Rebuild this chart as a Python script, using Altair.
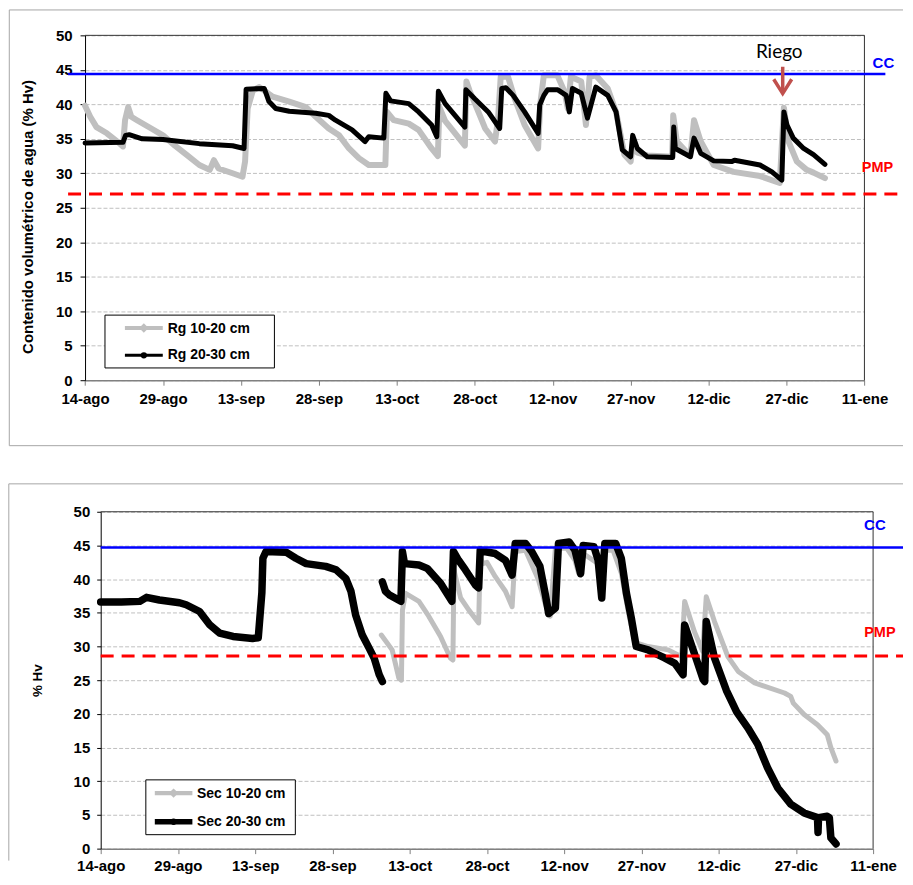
import json
import pandas as pd
import altair as alt

# ---------------- data ----------------
X_TICK_DAYS = [0, 15, 30, 45, 60, 75, 90, 105, 120, 135, 150]
X_TICK_LABELS = ["14-ago", "29-ago", "13-sep", "28-sep", "13-oct", "28-oct",
                 "12-nov", "27-nov", "12-dic", "27-dic", "11-ene"]
Y_TICKS = [0, 5, 10, 15, 20, 25, 30, 35, 40, 45, 50]

SERIES_RG = ["Rg 10-20 cm", "Rg 20-30 cm"]
SERIES_SEC = ["Sec 10-20 cm", "Sec 20-30 cm"]

CC_RG = 44.4
PMP_RG = 27.0
CC_SEC = 44.7
PMP_SEC = 28.6

# days after 14-ago
RG_1020_DAY = [0, 1, 2.2, 4.2, 6.7, 7.3, 7.7, 8.3, 8.9, 10, 12.5, 15, 17.3, 19.5, 22, 24,
               24.8, 25.7, 28.4, 30.3, 30.8, 31.3, 32.3, 33.5, 34.5, 36.1, 39.3, 42.5,
               44.4, 46.9, 48.9, 50.8, 52.7, 54.6, 57.8, 58.1, 59.4, 62.3, 64.2, 66.7,
               67.9, 68.2, 69.3, 71, 73.1, 73.4, 74, 75.7, 77, 78.9, 79.5, 80, 81.4,
               82.7, 84.6, 87.2, 87.6, 88.3, 90.9, 92.3, 92.9, 93.5, 95.5, 96.4, 97.1,
               98.3, 100.6, 102.2, 103.8, 105, 105.4, 106.3, 108.2, 113.0, 113.2, 113.9,
               116.5, 117.2, 118.5, 121, 124.8, 129.9, 133.7, 134.5, 135.4, 137, 138.9,
               140.2, 142.4]
RG_1020_VAL = [39.8, 38.2, 36.7, 35.8, 34.3, 33.9, 37.7, 39.6, 38.2, 37.7, 36.6, 35.5, 34.0,
               32.7, 31.2, 30.5, 31.9, 30.7, 30.0, 29.5, 31.7, 39.4, 42.0, 42.5, 42.0, 41.1,
               40.4, 39.6, 38.2, 36.5, 35.5, 33.6, 32.2, 31.2, 31.2, 38.9, 37.7, 37.2, 36.3,
               33.6, 32.5, 39.6, 37.6, 36.0, 34.0, 43.3, 42.0, 38.9, 36.5, 34.6, 38.0, 44.0,
               44.0, 40.8, 37.0, 33.6, 40.0, 44.2, 44.2, 41.8, 39.4, 44.0, 43.3, 37.0, 44.0,
               44.2, 42.3, 38.9, 32.7, 31.7, 34.1, 33.0, 32.6, 32.4, 38.4, 34.6, 32.5, 37.7,
               34.6, 31.2, 30.2, 29.6, 28.6, 39.5, 34.6, 31.7, 30.5, 30.1, 29.3]

RG_2030_DAY = [0, 7.3, 7.8, 8.5, 11, 15, 22, 28.4, 30.6, 31.0, 34.5, 35.4, 36.7, 39.3, 44.4,
               46.9, 48.2, 51.4, 53.9, 54.6, 57.5, 57.9, 58.8, 62.3, 64.2, 66.7, 67.7, 68.0,
               69.3, 73.1, 73.3, 75.0, 77.6, 79.8, 80.2, 81.0, 82.4, 84.6, 87.2, 87.5, 88.3,
               89.0, 91.0, 92.6, 93.2, 93.8, 95.5, 96.7, 98.3, 100.6, 102.2, 103.4, 105.0,
               105.4, 106.3, 108.2, 113.1, 113.3, 113.6, 116.5, 117.2, 118.5, 121, 124.5,
               125, 129.9, 132.2, 134.1, 134.5, 135.1, 136.3, 138.3, 140.2, 142.4]
RG_2030_VAL = [34.4, 34.5, 35.5, 35.6, 35.0, 34.9, 34.3, 34.0, 33.6, 42.2, 42.3, 40.4, 39.4,
               39.0, 38.7, 38.4, 37.7, 36.3, 34.6, 35.3, 35.1, 41.6, 40.5, 40.1, 38.9, 37.0,
               35.3, 41.9, 40.1, 36.7, 42.1, 40.8, 38.9, 36.5, 42.3, 42.4, 41.3, 38.9, 35.8,
               39.9, 41.3, 42.1, 42.1, 41.3, 38.9, 42.3, 41.6, 38.0, 42.5, 41.3, 38.9, 33.4,
               32.4, 35.5, 33.6, 32.4, 32.3, 36.7, 33.6, 32.4, 35.1, 32.9, 31.8, 31.7, 31.9,
               31.2, 30.2, 29.0, 38.9, 37.0, 35.1, 33.6, 32.7, 31.3]

SEC_1020_DAY = [54.5, 56.6, 57.9, 58.4, 58.6, 59.2, 61.8, 63.7, 66.0, 67.9, 68.4, 68.6, 69.9,
                71.5, 73.4, 73.7, 74.2, 75.0, 76.6, 78.6, 79.9, 80.5, 82.5, 85.0, 86.3, 87.3,
                88.3, 90.5, 92.1, 92.8, 93.7, 96.6, 97.3, 97.9, 99.5, 101.1, 102.4, 103.7,
                106.3, 110.2, 112.8, 113.4, 115.3, 116.9, 117.6, 119.2, 121.8, 123.8, 127.0,
                132.8, 134.0, 134.5, 136.6, 139.2, 141.1, 141.8, 142.8]
SEC_1020_VAL = [31.7, 29.5, 25.3, 25.0, 35.4, 37.9, 36.7, 34.5, 31.5, 28.3, 28.0, 41.4, 37.2,
                35.4, 33.5, 43.3, 42.3, 42.5, 40.4, 38.2, 35.9, 44.1, 44.3, 39.9, 36.4, 34.5,
                44.6, 44.6, 42.8, 40.9, 43.8, 42.3, 39.4, 44.3, 44.3, 40.9, 35.4, 30.6,
                30.0, 29.5, 28.5, 36.7, 32.2, 29.3, 37.4, 33.7, 28.5, 26.3, 24.6,
                23.1, 22.6, 21.6, 19.9, 18.4, 16.9, 15.0, 13.0]

SEC_2030_DAY = [0, 4, 7.6, 8.9, 11.4, 15.3, 16.6, 19.2, 21.2, 23.1, 25.7, 29.5, 30.6, 31.3,
                31.5, 32.1, 36.0, 37.9, 39.9, 43.7, 45.7, 47.6, 48.6, 49.5, 50.8, 52.1, 53.1,
                54.1, 54.7,
                54.7, 55.3, 56.0, 58.3, 58.6, 59.0, 61.8, 63.4, 66.0, 68.2, 68.5, 69.5, 70.8,
                72.8, 73.4, 73.7, 74.5, 76.6, 78.6, 79.9, 80.5, 82.5, 83.7, 85.3, 86.3, 87.0,
                88.3, 88.9, 91.0, 92.1, 93.2, 93.7, 95.8, 96.6, 97.3, 97.9, 100.0, 101.1,
                102.1, 103.1, 104.0, 106.3, 107.6, 109.5, 111.5, 113.1, 113.4, 115.5, 117.0,
                117.3, 117.6, 119.2, 121.5, 123.5, 125.7, 127.6, 129.5, 131.5, 134.0, 136.6,
                139.2, 139.3, 139.4, 141.1, 141.5, 141.8, 142.8]
SEC_2030_VAL = [36.6, 36.6, 36.7, 37.3, 36.9, 36.5, 36.2, 35.2, 33.2, 32.0, 31.5, 31.2, 31.3,
                38.0, 43.1, 44.1, 44.0, 43.1, 42.3, 41.9, 41.4, 40.1, 38.2, 34.7, 31.7, 29.8,
                28.3, 25.8, 24.8,
                39.6, 38.2, 37.7, 36.7, 44.1, 42.3, 42.1, 41.6, 39.4, 36.7, 44.1, 42.8, 41.4,
                39.1, 38.7, 44.3, 44.1, 43.8, 42.8, 40.6, 45.3, 45.3, 44.1, 41.9, 37.9, 34.9,
                35.7, 45.3, 45.5, 44.3, 40.8, 45.0, 44.8, 42.8, 37.2, 45.3, 45.3, 43.1,
                37.9, 34.0, 30.0, 29.5, 29.0, 28.3, 27.5, 25.8, 33.2, 28.5, 25.1,
                24.8, 33.7, 28.3, 23.5, 20.3, 17.9, 15.5, 12.0, 9.0, 6.6, 5.3,
                4.6, 2.4, 4.6, 4.8, 4.6, 1.6, 0.7]
SEC_2030_SEG = [1] * 29 + [2] * (len(SEC_2030_DAY) - 29)

# ---------------- styling ----------------
FONT = "Liberation Sans"
GRAY = "#BFBFBF"
BLACK = "#000000"
BLUE = "#0000FF"
RED = "#FF0000"
FRAME = "#A6A6A6"
BORDER = "#333333"

label_expr = json.dumps(X_TICK_LABELS) + "[round(datum.value / 15)]"


def x_axis(pad):
    return alt.Axis(values=X_TICK_DAYS, labelExpr=label_expr, title=None, grid=False,
                    labelFontSize=15, labelFontWeight="bold", labelColor="black",
                    labelFont=FONT, labelFlush=False, labelOverlap=False,
                    labelPadding=pad, tickSize=5, tickColor="#808080",
                    domainColor="#808080", domainWidth=1.5)


def y_axis(title, tsize, lpad, tpad, tfs, offset=0, title_y=None):
    kw = dict(values=Y_TICKS, title=title, grid=True, gridColor="#C0C0C0",
              gridDash=[4, 2], gridWidth=1, labelFontSize=15, labelFontWeight="bold",
              labelColor="black", labelFont=FONT, labelPadding=lpad, tickSize=tsize,
              labelOverlap=False, tickColor="black", domainColor="black", titleFont=FONT,
              titleFontSize=tfs, titleFontWeight="bold", titleColor="black",
              titlePadding=tpad, offset=offset)
    if title_y is not None:
        kw["titleY"] = title_y
    return alt.Axis(**kw)


def hrule(x1, x2, y, color, width):
    return alt.Chart().mark_rule(color=color, strokeWidth=width).encode(
        x=alt.value(x1), x2=alt.value(x2), y=alt.value(y))


def vline(x, y1, y2, color, width):
    return alt.Chart().mark_rule(color=color, strokeWidth=width).encode(
        x=alt.value(x), y=alt.value(y1), y2=alt.value(y2))


def label(x, y, text, size, color="black", weight="bold", align="left", font=FONT,
          baseline="middle"):
    return alt.Chart().mark_text(text=text, fontSize=size, fontWeight=weight, color=color,
                                 align=align, baseline=baseline, font=font).encode(
        x=alt.value(x), y=alt.value(y))


def panel(w, h, xrange, df_gray, df_black, gray_w, black_w, yaxis, xpad, cc, pmp, cc_x,
          pmp_x, extra):
    xs = alt.Scale(domain=[0, 150], range=xrange, nice=False, zero=False)
    ys = alt.Scale(domain=[0, 50], nice=False)
    xa = x_axis(xpad)
    yenc = alt.Y("val:Q", scale=ys, axis=yaxis)
    gray = alt.Chart(df_gray).mark_line(color=GRAY, strokeWidth=gray_w, strokeJoin="round",
                                        strokeCap="round").encode(
        x=alt.X("day:Q", scale=xs, axis=xa), y=yenc)
    black = alt.Chart(df_black).mark_line(color=BLACK, strokeWidth=black_w,
                                          strokeJoin="round", strokeCap="round").encode(
        x=alt.X("day:Q", scale=xs, axis=xa), y=yenc, detail="seg:N")
    pmp_rule = alt.Chart(pd.DataFrame({"val": [pmp]})).mark_rule(
        color=RED, strokeWidth=3, strokeDash=[13, 8]).encode(
        x=alt.value(pmp_x[0]), x2=alt.value(pmp_x[1]), y=yenc)
    cc_rule = alt.Chart(pd.DataFrame({"val": [cc]})).mark_rule(
        color=BLUE, strokeWidth=2.5).encode(
        x=alt.value(cc_x[0]), x2=alt.value(cc_x[1]), y=yenc)
    border = [hrule(xrange[0], xrange[1], 0, BORDER, 1),
              vline(xrange[1], 0, h, BORDER, 1)]
    return alt.layer(gray, black, *border, pmp_rule, cc_rule, *extra).properties(
        width=w, height=h)


def legend(box, names, line_x, ys, text_x, gw, bw):
    cx = (line_x[0] + line_x[1]) / 2
    return [
        alt.Chart().mark_rect(fill="white", stroke="black", strokeWidth=1).encode(
            x=alt.value(box[0]), x2=alt.value(box[1]), y=alt.value(box[2]),
            y2=alt.value(box[3])),
        hrule(line_x[0], line_x[1], ys[0], GRAY, gw),
        alt.Chart().mark_point(shape="diamond", filled=True, color=GRAY, size=90,
                               opacity=1).encode(x=alt.value(cx), y=alt.value(ys[0])),
        hrule(line_x[0], line_x[1], ys[1], BLACK, bw),
        alt.Chart().mark_point(shape="circle", filled=True, color=BLACK, size=40,
                               opacity=1).encode(x=alt.value(cx), y=alt.value(ys[1])),
        label(text_x, ys[0] + 0.5, names[0], 14),
        label(text_x, ys[1], names[1], 14),
    ]


# Both panels share one x origin (the bottom plot's left edge); the top plot
# starts 15.7 px further left, so its x positions are shifted by T.
T = -15.7
RIGHT = 805  # right end of the outer frames, relative to the shared origin

# ---------------- top panel (Rg) ----------------
df_rg_gray = pd.DataFrame({"day": RG_1020_DAY, "val": RG_1020_VAL})
df_rg_black = pd.DataFrame({"day": RG_2030_DAY, "val": RG_2030_VAL, "seg": 1})

TW, TH = 782, 346
top_extra = [
    label(801 + T, 27.7, "CC", 15, color=BLUE, align="center"),
    label(795 + T, 133.4, "PMP", 14.5, color=RED, align="center"),
    label(696.5 + T, 22.4, "Riego", 19, weight="normal", align="center", font="Lato",
          baseline="alphabetic"),
    vline(700 + T, 31.5, 56, "#C0504D", 3.5),
    alt.Chart().mark_point(shape="M-1,-0.8L0,0.8L1,-0.8", filled=False, color="#C0504D",
                           strokeWidth=3.5, size=324, opacity=1).encode(
        x=alt.value(700 + T), y=alt.value(51.2)),
    *legend((20 + T, 190 + T, 280.7, 333.7), SERIES_RG, (40 + T, 78 + T), (293.7, 321),
            83 + T, 4, 3),
    # chart-area frame
    hrule(-76 + T, RIGHT, -25.5, FRAME, 1),
    hrule(-76 + T, RIGHT, 411.7, FRAME, 1),
    vline(-76 + T, -25.5, 411.7, FRAME, 1),
]
top = panel(TW + T, TH, [T, TW + T], df_rg_gray, df_rg_black, 6, 5,
            y_axis("Contenido volumétrico de agua (% Hv)", 5, 8, 20, 15, offset=-T,
                   title_y=181.7),
            6, CC_RG, PMP_RG, (-17 + T, 803 + T), (-17 + T, 803), top_extra)

# ---------------- bottom panel (Sec) ----------------
df_sec_gray = pd.DataFrame({"day": SEC_1020_DAY, "val": SEC_1020_VAL})
df_sec_black = pd.DataFrame({"day": SEC_2030_DAY, "val": SEC_2030_VAL,
                             "seg": SEC_2030_SEG})

BW, BH = 775, 338
bot_extra = [
    label(776.8, 13, "CC", 15, color=BLUE, align="center"),
    label(781.8, 122, "PMP", 14.5, color=RED, align="center"),
    *legend((45.3, 195.3, 269, 324), SERIES_SEC, (54.3, 92), (282.3, 311), 96.6, 4.5, 5.5),
    hrule(-92.2, RIGHT, -28, FRAME, 1),
    vline(-92.2, -28, 350, FRAME, 1),
]
bottom = panel(BW, BH, [0, BW], df_sec_gray, df_sec_black, 5, 7.5,
               y_axis("% Hv", 4, 7, 29, 13.5), 5, CC_SEC, PMP_SEC, (0, RIGHT), (0, RIGHT),
               bot_extra)

chart = alt.vconcat(top, bottom, spacing=36).properties(padding=0).configure_view(
    stroke=None).configure_text(font=FONT)

chart.save("out.html", embed_options={"renderer": "svg", "actions": False})
